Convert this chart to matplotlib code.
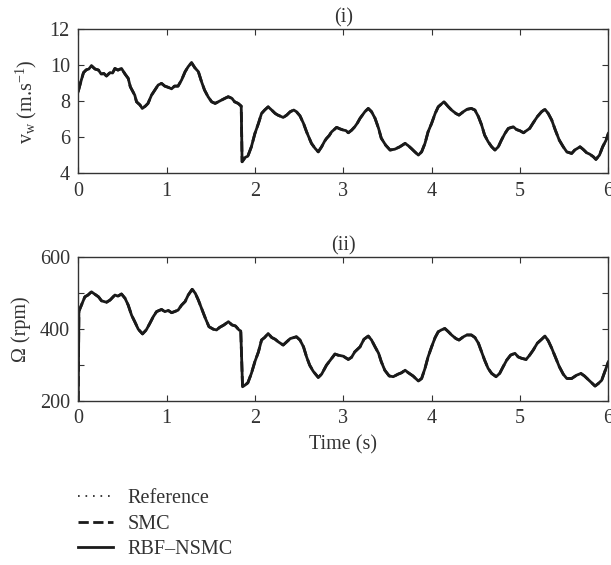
import matplotlib
matplotlib.use('Agg')
import matplotlib.pyplot as plt
from matplotlib.ticker import FixedFormatter, FixedLocator
from matplotlib.lines import Line2D

# wind speed
t_wind = [0.0, 0.03, 0.06, 0.09, 0.12, 0.15, 0.19, 0.23, 0.26, 0.29, 0.32, 0.36, 0.39, 0.415,
          0.45, 0.49, 0.53, 0.566, 0.59, 0.64, 0.66, 0.70, 0.725, 0.76, 0.79, 0.83, 0.868, 0.905,
          0.943, 0.98, 1.02, 1.057, 1.09, 1.13, 1.17, 1.21, 1.245, 1.283, 1.32, 1.36, 1.396, 1.43,
          1.47, 1.51, 1.55, 1.585, 1.62, 1.66, 1.698, 1.74, 1.77, 1.81, 1.845, 1.855, 1.89, 1.92,
          1.96, 2.0, 2.04, 2.075, 2.11, 2.15, 2.19, 2.23, 2.26, 2.32, 2.36, 2.40, 2.44, 2.47, 2.51,
          2.55, 2.585, 2.62, 2.64, 2.68, 2.717, 2.755, 2.79, 2.81, 2.84, 2.868, 2.90, 2.925, 2.96,
          3.0, 3.03, 3.057, 3.094, 3.13, 3.16, 3.19, 3.245, 3.283, 3.32, 3.36, 3.40, 3.43, 3.48,
          3.53, 3.585, 3.64, 3.70, 3.736, 3.77, 3.81, 3.85, 3.887, 3.925, 3.96, 4.0, 4.04, 4.075,
          4.11, 4.14, 4.19, 4.226, 4.275, 4.31, 4.36, 4.40, 4.45, 4.49, 4.53, 4.566, 4.60, 4.64,
          4.68, 4.717, 4.755, 4.79, 4.83, 4.868, 4.925, 4.96, 5.0, 5.04, 5.075, 5.11, 5.15, 5.196,
          5.245, 5.283, 5.32, 5.36, 5.40, 5.445, 5.49, 5.53, 5.585, 5.62, 5.68, 5.717, 5.755, 5.79,
          5.83, 5.86, 5.90, 5.936, 5.975, 6.0]
v_wind = [8.55, 9.1, 9.6, 9.75, 9.8, 9.98, 9.8, 9.74, 9.52, 9.55, 9.41, 9.6, 9.58, 9.83,
          9.74, 9.83, 9.52, 9.28, 8.81, 8.35, 7.98, 7.8, 7.61, 7.74, 7.89, 8.35, 8.63, 8.91,
          9.0, 8.85, 8.78, 8.70, 8.85, 8.85, 9.19, 9.65, 9.93, 10.15, 9.87, 9.65, 9.09, 8.63,
          8.26, 7.98, 7.89, 7.98, 8.07, 8.17, 8.26, 8.17, 7.98, 7.89, 7.74, 4.65, 4.89, 4.96,
          5.48, 6.22, 6.78, 7.33, 7.52, 7.70, 7.52, 7.33, 7.24, 7.11, 7.24, 7.43, 7.52, 7.43, 7.2,
          6.78, 6.31, 5.90, 5.67, 5.40, 5.2, 5.48, 5.80, 5.94, 6.10, 6.31, 6.45, 6.56, 6.48,
          6.41, 6.38, 6.26, 6.40, 6.59, 6.80, 7.06, 7.43, 7.61, 7.43, 7.06, 6.5, 5.96, 5.57,
          5.30, 5.35, 5.48, 5.67, 5.54, 5.39, 5.20, 5.02, 5.20, 5.67, 6.31, 6.78, 7.33, 7.70,
          7.85, 7.98, 7.70, 7.52, 7.33, 7.24, 7.43, 7.56, 7.61, 7.52, 7.15, 6.69, 6.13, 5.76,
          5.48, 5.30, 5.48, 5.85, 6.22, 6.50, 6.59, 6.44, 6.37, 6.26, 6.38, 6.50, 6.81, 7.15,
          7.43, 7.56, 7.33, 6.96, 6.41, 5.85, 5.48, 5.20, 5.11, 5.30, 5.48, 5.33, 5.15, 5.07,
          4.93, 4.78, 5.02, 5.48, 5.85, 6.22]

# rotor speed (ii)
t_rotor = [0.0, 0.008, 0.03, 0.075, 0.11, 0.15, 0.19, 0.23, 0.264, 0.32, 0.36, 0.415, 0.45, 0.49,
           0.53, 0.566, 0.604, 0.64, 0.68, 0.728, 0.77, 0.81, 0.85, 0.887, 0.943, 0.98, 1.02,
           1.057, 1.09, 1.13, 1.17, 1.21, 1.245, 1.29, 1.325, 1.36, 1.404, 1.44, 1.48, 1.53,
           1.566, 1.60, 1.65, 1.70, 1.74, 1.78, 1.82, 1.84, 1.86, 1.89, 1.92, 1.96, 2.0, 2.04,
           2.075, 2.11, 2.15, 2.19, 2.23, 2.264, 2.32, 2.36, 2.40, 2.44, 2.47, 2.51, 2.55, 2.585,
           2.62, 2.66, 2.717, 2.755, 2.81, 2.868, 2.906, 2.94, 3.0, 3.057, 3.094, 3.13, 3.19,
           3.234, 3.283, 3.32, 3.36, 3.40, 3.43, 3.47, 3.52, 3.566, 3.62, 3.66, 3.70, 3.736, 3.79,
           3.85, 3.887, 3.925, 3.96, 4.0, 4.04, 4.075, 4.11, 4.15, 4.19, 4.226, 4.275, 4.31, 4.36,
           4.40, 4.45, 4.49, 4.53, 4.566, 4.60, 4.64, 4.68, 4.73, 4.77, 4.81, 4.85, 4.894, 4.943,
           4.98, 5.02, 5.07, 5.11, 5.15, 5.196, 5.245, 5.283, 5.32, 5.36, 5.40, 5.445, 5.49, 5.53,
           5.585, 5.64, 5.69, 5.73, 5.76, 5.80, 5.85, 5.887, 5.925, 5.96, 6.0]
omega_rotor = [200, 450, 463, 490, 495, 504, 497, 490, 479, 475, 481, 495, 492, 498,
               486, 467, 439, 421, 400, 387, 398, 416, 435, 449, 455, 449, 452,
               446, 449, 453, 467, 477, 495, 511, 500, 481, 453, 430, 407, 400,
               398, 405, 412, 421, 412, 409, 398, 395, 240, 245, 251, 277, 310, 337,
               370, 377, 388, 377, 372, 365, 356, 365, 374, 377, 379, 370, 351, 323,
               300, 283, 266, 275, 300, 319, 331, 328, 325, 316, 322, 337, 351,
               372, 381, 370, 351, 333, 310, 286, 270, 268, 275, 279, 286, 279, 270,
               256, 263, 291, 323, 351, 377, 393, 398, 402, 393, 384, 374, 370, 379,
               384, 384, 377, 361, 337, 314, 291, 277, 268, 277, 296, 314, 328, 333,
               323, 319, 316, 328, 342, 361, 372, 381, 368, 347, 323, 296, 275, 263,
               263, 272, 277, 270, 263, 254, 242, 249, 258, 282, 309]

labels = ['Reference', 'SMC', 'RBF\u2013NSMC']
styles = [((0, (1, 3.5)), 1.2), ('--', 2.0), ('-', 2.0)]

fs = 14.5
plt.rcParams['font.family'] = ['Liberation Serif', 'DejaVu Serif']
plt.rcParams['mathtext.fontset'] = 'custom'
plt.rcParams['mathtext.rm'] = 'Liberation Serif'
plt.rcParams['mathtext.it'] = 'Liberation Serif:italic'
plt.rcParams['font.size'] = fs

fig = plt.figure(figsize=(6.11, 5.65), dpi=100)
ax1 = fig.add_axes([0.128, 0.693, 0.8676, 0.255])
ax2 = fig.add_axes([0.128, 0.290, 0.8676, 0.2546])

for ax, t, y in [(ax1, t_wind, v_wind), (ax2, t_rotor, omega_rotor)]:
    for ls, lw in styles:
        ax.plot(t, y, color='#1a1a1a', linestyle=ls, linewidth=lw)
    ax.set_xlim(0, 6)
    ax.tick_params(direction='in', top=True, right=True, length=4, color='#333333',
                   labelcolor='#333333', pad=6)
    for s in ax.spines.values():
        s.set_color('#333333')
        s.set_linewidth(1.0)

ax1.set_ylim(4, 12)
ax1.set_yticks([4, 6, 8, 10, 12])
ax1.set_ylabel(r'v$_\mathrm{w}$ (m.s$^{-1}$)', color='#333333', labelpad=8)
ax1.set_title('(i)', fontsize=fs, pad=5, color='#333333')

ax2.set_ylim(200, 600)
ax2.yaxis.set_major_locator(FixedLocator([200, 300, 400, 500, 600]))
ax2.yaxis.set_major_formatter(FixedFormatter(['200', '', '400', '', '600']))
ax2.set_ylabel('\u03a9 (rpm)', color='#333333', labelpad=6)
ax2.set_xlabel('Time (s)', color='#333333', labelpad=5)
ax2.set_title('(ii)', fontsize=fs, pad=5, color='#333333')

handles = [Line2D([], [], color='#1a1a1a', linestyle=ls, linewidth=lw) for ls, lw in styles]
fig.legend(handles, labels, loc='upper left', bbox_to_anchor=(0.121, 0.141), frameon=False,
           handlelength=1.75, handletextpad=0.7, labelspacing=0.3, fontsize=fs,
           labelcolor='#333333', borderaxespad=0.0, borderpad=0.2)

fig.savefig('out.png', dpi=100)
